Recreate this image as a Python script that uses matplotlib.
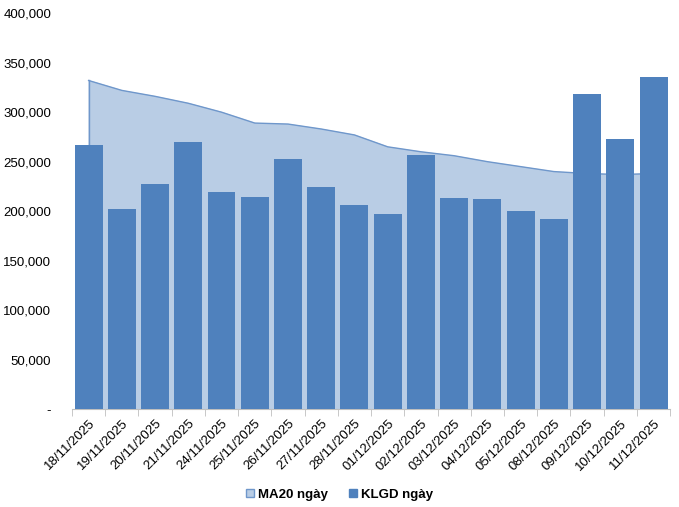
import matplotlib
matplotlib.use("Agg")
import matplotlib.pyplot as plt
import numpy as np
from matplotlib.ticker import FuncFormatter
from matplotlib.patches import Patch

plt.rcParams['font.family'] = ['Liberation Sans', 'DejaVu Sans']

dates = ['18/11/2025', '19/11/2025', '20/11/2025', '21/11/2025', '24/11/2025',
         '25/11/2025', '26/11/2025', '27/11/2025', '28/11/2025', '01/12/2025',
         '02/12/2025', '03/12/2025', '04/12/2025', '05/12/2025', '08/12/2025',
         '09/12/2025', '10/12/2025', '11/12/2025']
klgd = [267000, 202000, 227000, 270000, 219000, 214000, 252500, 224000, 206000,
        197000, 256500, 213000, 212000, 200000, 192000, 318000, 272500, 336000]
ma20 = [332000, 322000, 316000, 309000, 300000, 289000, 288000, 283000, 277000,
        265000, 260000, 256000, 250000, 245000, 240000, 238000, 237000, 238000]

bar_c = '#4F81BD'
area_c = '#B9CDE5'

fig = plt.figure(figsize=(6.79, 5.07), dpi=100)
ax = fig.add_axes([0.106, 0.193, 0.881, 0.781])

x = np.arange(len(dates))
ax.fill_between(x, 0, ma20, color=area_c, zorder=1)
ax.plot(x, ma20, color='#6F97CB', lw=1.0, zorder=2)
ax.plot([x[0], x[0]], [0, ma20[0]], color='#6F97CB', lw=1.0, zorder=2)
ax.bar(x, klgd, width=0.84, color=bar_c, zorder=3)

ax.set_xlim(-0.5, len(dates) - 0.5)
ax.set_ylim(0, 400000)
ax.set_yticks(np.arange(0, 400001, 50000))
ax.yaxis.set_major_formatter(FuncFormatter(lambda v, p: '-' if v == 0 else f'{int(v):,}'))
ax.tick_params(axis='y', length=0, labelsize=9.5, pad=15)

ax.set_xticks(x)
ax.set_xticklabels(dates, rotation=45, ha='right', rotation_mode='anchor', fontsize=9.5)
ax.set_xticks(np.arange(-0.5, len(dates), 1), minor=True)
ax.tick_params(axis='x', which='major', length=0, pad=6)
ax.tick_params(axis='x', which='minor', length=5, color='#BFBFBF', direction='out')

for s in ['top', 'right', 'left']:
    ax.spines[s].set_visible(False)
ax.spines['bottom'].set_color('#BFBFBF')

handles = [Patch(facecolor=area_c, edgecolor='#6F97CB', label='MA20 ngày'),
           Patch(facecolor=bar_c, edgecolor=bar_c, label='KLGD ngày')]
fig.legend(handles=handles, loc='center', bbox_to_anchor=(0.5, 0.024), ncol=2,
           frameon=False, handlelength=0.6, handleheight=0.6, handletextpad=0.3,
           columnspacing=1.6, prop={'family': ['Liberation Sans'],
                                     'weight': 'bold', 'size': 9.5})

plt.savefig('out.png', dpi=100)
